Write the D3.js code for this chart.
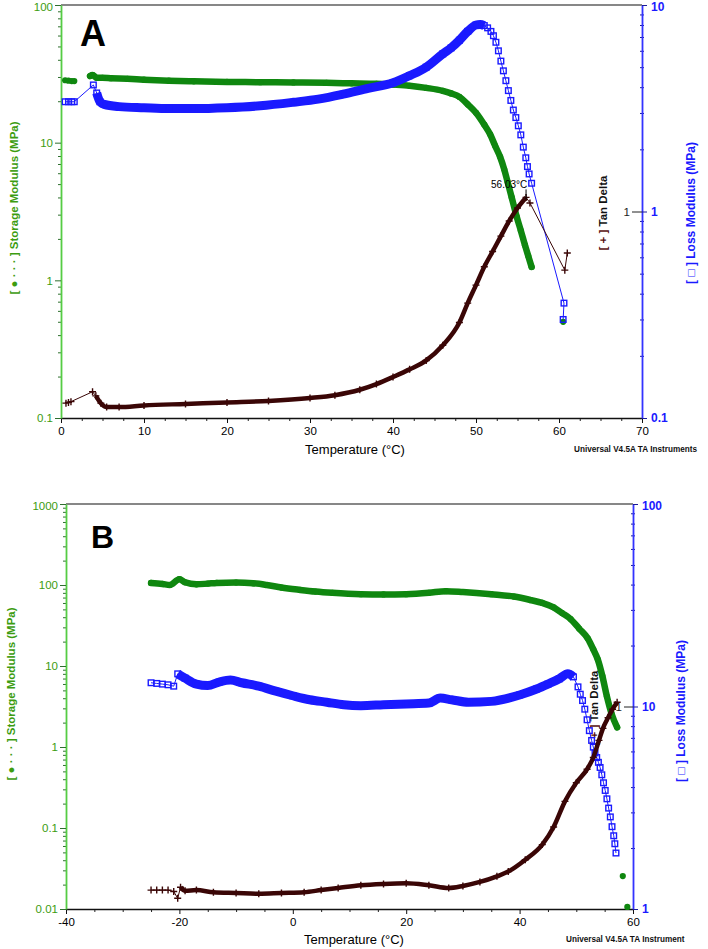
<!DOCTYPE html>
<html><head><meta charset="utf-8">
<script src="https://cdn.jsdelivr.net/npm/d3@7"></script>
<style>
body{margin:0;background:#fff}
svg{display:block}
text{font-family:"Liberation Sans",Arial,sans-serif}
</style>
</head><body><svg id="c" width="708" height="949"></svg>
<script>
// ---------- Panel A data ----------
const aStorageT = [0.5,0.9,1.3,1.6,2.5,3.5,3.8,4.3,5,6,8,10,13,16,20,24,28,32,35,38,40,42,44,46,47,48,49,50,51,51.7,52.3,52.9,53.4,53.8,54.3,54.9,55.4,55.9,56.3,56.7,58.5,60.5];
const aStorageV = [28.4,28.2,28.0,28.0,null,30.5,31.0,29.6,29.6,29.4,29.1,28.7,28.2,27.9,27.6,27.5,27.4,27.2,27.0,26.8,26.4,25.9,25.0,23.8,22.8,21.5,19.0,16.5,13.5,11.5,9.5,7.9,6.4,5.2,4.0,2.9,2.3,1.8,1.5,1.25,null,0.5];
const aLossT = [0.5,0.9,1.3,1.6,3.9,4.3,4.7,5.2,7,10,13,16,20,24,28,31,34,37,40,42,44,46,47,48,49,50,50.5,51,51.4,51.8,52.1,52.4,52.7,53.0,53.3,53.6,53.9,54.2,54.5,54.8,55.1,55.4,55.7,56.0,56.2,56.4,56.7,60.6,60.5];
const aLossV = [3.4,3.4,3.4,3.4,4.1,3.75,3.4,3.3,3.22,3.18,3.15,3.15,3.18,3.25,3.38,3.5,3.7,3.95,4.2,4.55,5.0,5.8,6.2,6.75,7.45,8.0,8.05,7.95,7.75,7.45,7.1,6.6,6.0,5.35,4.8,4.3,3.85,3.45,3.1,2.85,2.6,2.35,2.05,1.82,1.65,1.52,1.37,0.36,0.30];
const aTanT = [0.6,0.9,1.2,3.8,4.2,4.8,5.5,7,10,15,20,25,30,33,36,38,40,42,44,46,48,49,50,51,52,53,54,55,56.03,56.5,60.7,61];
const aTanV = [0.118,0.119,0.12,0.134,0.128,0.118,0.113,0.113,0.115,0.117,0.119,0.121,0.125,0.129,0.137,0.146,0.158,0.172,0.19,0.225,0.29,0.36,0.44,0.54,0.64,0.76,0.9,1.04,1.17,1.1,0.52,0.63];
const aXTicks = [0,10,20,30,40,50,60,70];
const aLeftTicks = [0.1,1,10,100];
const aLeftLabels = ["0.1","1","10","100"];
const aRightTicks = [0.1,1,10];
const aRightLabels = ["0.1","1","10"];
const aPeakLabel = "56.03°C";

// ---------- Panel B data ----------
const bStorageT = [-25,-23,-21.7,-20,-19,-17,-15,-13.4,-10,-7,-4.6,-2,1.3,4,7,12,16,20,24,27,30,35,39,42,44,46,47.5,49,50.5,52,53,53.8,54.6,55.4,56.2,57.2,57.7,58.2,59];
const bStorageV = [106,103,100,118,108,102,104,106,107,105,100,93,87,83,80,77,76.5,77,80,84,82,77,72,65,60,53,45,38,29,22,16,12,7.5,4.2,2.6,1.75,null,0.0255,0.0106];
const bLossT = [-25,-24,-23,-22,-21,-20.3,-19,-17,-15,-13,-11,-9,-6,-3,0,3,6,9,12,16,20,24,26,28,31,35,40,43,45,47,48.5,49.5,50.3,50.7,51.1,51.5,51.9,52.3,52.7,53.0,53.3,53.6,53.9,54.2,54.5,54.8,55.1,55.4,55.7,56.0,56.3,56.6,56.8,57.0];
const bLossV = [13.1,13.0,12.9,12.8,12.6,14.5,13.8,12.9,12.7,13.2,13.5,13.1,12.6,11.9,11.3,10.8,10.5,10.2,10.1,10.2,10.3,10.4,11.0,10.8,10.5,10.6,11.4,12.2,12.9,13.7,14.5,14.0,12.5,11.5,10.7,9.7,8.6,7.6,6.8,6.3,5.9,5.6,5.3,5.0,4.6,4.2,3.85,3.5,3.15,2.85,2.55,2.3,2.1,1.89];
const bTanT = [-25,-24,-23,-22,-21,-20.3,-19.8,-19,-17,-14,-10,-6,-2,2,5,8,12,16,20,24,27.5,30,33,36,38,41,44,46,48,50,51.9,53,54,54.7,55.6,56.4,57.2];
const bTanV = [0.124,0.124,0.124,0.124,0.122,0.113,0.128,0.123,0.124,0.121,0.12,0.119,0.12,0.121,0.124,0.127,0.131,0.133,0.134,0.131,0.127,0.13,0.136,0.145,0.153,0.175,0.208,0.254,0.34,0.42,0.49,0.56,0.68,0.78,0.88,0.97,1.05];
const bXTicks = [-40,-20,0,20,40,60];
const bLeftTicks = [0.01,0.1,1,10,100,1000];
const bLeftLabels = ["0.01","0.1","1","10","100","1000"];
const bRightTicks = [1,10,100];
const bRightLabels = ["1","10","100"];

const GREEN = "#0f870f", GREEN_AX = "#55cc44", GREEN_TXT = "#3c9c10";
const BLUE = "#1a1aff", TAN = "#3a0606";

const svg = d3.select("#c");

function zip(T, V) { return T.map((t, i) => ({t, v: V[i]})); }
function logMinor(dom) {
  const out = [];
  const e0 = Math.round(Math.log10(dom[0])), e1 = Math.round(Math.log10(dom[1]));
  for (let e = e0; e < e1; e++) for (let m = 2; m <= 9; m++) out.push(+(m * Math.pow(10, e)).toPrecision(3));
  return out;
}
const FONT = '"Liberation Sans",Arial,sans-serif';

function drawPanel(p) {
  const g = svg.append("g");
  const x = d3.scaleLinear().domain(p.xDom).range([p.x0, p.x1]);
  const yL = d3.scaleLog().domain(p.leftDom).range([p.yBot, p.yTop]);
  const yR = d3.scaleLog().domain(p.rightDom).range([p.yBot, p.yTop]);
  const yT = d3.scaleLog().domain(p.tanDom).range([p.yBot, p.yTop]);

  // rotated labels drawn first (under the data)
  g.append("text").attr("transform", `translate(${p.leftLabelX},${p.leftLabelY}) rotate(-90)`)
    .attr("text-anchor", "middle").attr("font-size", 11.5).attr("font-weight", "bold").attr("fill", GREEN_TXT)
    .text("[ ● · · · ] Storage Modulus (MPa)");
  g.append("text").attr("transform", `translate(${p.rightLabelX},${p.rightLabelY}) rotate(-90)`)
    .attr("text-anchor", "middle").attr("font-size", 12).attr("font-weight", "bold").attr("fill", BLUE)
    .text("[ □ ] Loss Modulus (MPa)");
  const tt = g.append("text").attr("transform", `translate(${p.tanLabelX},${p.tanLabelY}) rotate(-90)`)
    .attr("text-anchor", "middle").attr("font-size", 11.5).attr("font-weight", "bold");
  tt.append("tspan").attr("fill", "#5a1010").text("[ + ] ");
  tt.append("tspan").attr("fill", "#111").text("Tan Delta");

  // top frame
  g.append("line").attr("x1", p.x0).attr("x2", p.x1).attr("y1", p.yTop).attr("y2", p.yTop)
    .attr("stroke", "#111").attr("stroke-width", 1.2);

  // x axis
  const xMinor = d3.range(p.xDom[0], p.xDom[1] + 0.001, p.xMinorStep).filter(v => !p.xTicks.includes(v));
  g.append("g").attr("transform", `translate(0,${p.yBot})`)
    .call(d3.axisBottom(x).tickValues(xMinor).tickSize(3).tickFormat("").tickSizeOuter(0))
    .call(s => s.select(".domain").remove())
    .call(s => s.selectAll("line").attr("stroke", "#222"));
  g.append("g").attr("transform", `translate(0,${p.yBot})`)
    .call(d3.axisBottom(x).tickValues(p.xTicks).tickSize(5).tickPadding(4).tickFormat(d => d).tickSizeOuter(0))
    .call(s => s.select(".domain").attr("stroke", "#111").attr("stroke-width", 1.5))
    .call(s => s.selectAll("line").attr("stroke", "#111"))
    .call(s => s.selectAll("text").attr("font-size", 11.5).attr("fill", "#000").attr("font-family", FONT));

  // left axis
  g.append("g").attr("transform", `translate(${p.x0},0)`)
    .call(d3.axisLeft(yL).tickValues(logMinor(p.leftDom)).tickSize(3).tickFormat("").tickSizeOuter(0))
    .call(s => s.select(".domain").remove())
    .call(s => s.selectAll("line").attr("stroke", "#2f6f2f"));
  g.append("g").attr("transform", `translate(${p.x0},0)`)
    .call(d3.axisLeft(yL).tickValues(p.leftTicks).tickSize(6).tickPadding(2).tickFormat((d, i) => p.leftLabels[i]).tickSizeOuter(0))
    .call(s => s.select(".domain").attr("stroke", GREEN_AX).attr("stroke-width", 1.8))
    .call(s => s.selectAll("line").attr("stroke", "#2f6f2f"))
    .call(s => s.selectAll("text").attr("font-size", 11.5).attr("fill", GREEN_TXT).attr("font-family", FONT)
      .attr("dy", (d) => d === p.leftDom[1] ? "0.72em" : "0.32em").attr("y", d => d === p.leftDom[1] ? -3 : 0));

  // right axis (loss)
  g.append("g").attr("transform", `translate(${p.x1},0)`)
    .call(d3.axisRight(yR).tickValues(logMinor(p.rightDom)).tickSize(4).tickFormat("").tickSizeOuter(0))
    .call(s => s.select(".domain").remove())
    .call(s => s.selectAll("line").attr("stroke", "#1a1a99").attr("transform", "translate(-2,0)"));
  g.append("g").attr("transform", `translate(${p.x1},0)`)
    .call(d3.axisRight(yR).tickValues(p.rightTicks).tickSize(5).tickPadding(4).tickFormat((d, i) => p.rightLabels[i]).tickSizeOuter(0))
    .call(s => s.select(".domain").attr("stroke", "#3333ff").attr("stroke-width", 1.8))
    .call(s => s.selectAll("line").attr("stroke", "#1a1a99"))
    .call(s => s.selectAll("text").attr("font-size", 12).attr("font-weight", "bold").attr("fill", BLUE).attr("font-family", FONT)
      .attr("dy", (d) => d === p.rightDom[1] ? "0.72em" : "0.32em").attr("y", d => d === p.rightDom[1] ? -3 : 0));

  // tan delta tick
  g.append("g").attr("transform", `translate(${p.x1},0)`)
    .call(d3.axisLeft(yT).tickValues([1]).tickSize(p.tanTick).tickPadding(2).tickFormat(() => "1").tickSizeOuter(0))
    .call(s => s.select(".domain").remove())
    .call(s => s.selectAll("line").attr("stroke", "#222"))
    .call(s => s.selectAll("text").attr("font-size", 11.5).attr("fill", "#222").attr("font-family", FONT));

  // ---- data ----
  const st = zip(p.storageT, p.storageV);
  const ls = zip(p.lossT, p.lossV);
  const tn = zip(p.tanT, p.tanV);

  // storage band + dots
  const lineS = d3.line().defined(d => d.v != null).x(d => x(d.t)).y(d => yL(d.v)).curve(d3.curveMonotoneX);
  g.append("path").datum(st.filter(d => d.t >= p.storageBand[0] && d.t <= p.storageBand[1] || d.v == null))
    .attr("d", lineS).attr("fill", "none").attr("stroke", GREEN).attr("stroke-width", 6.5).attr("stroke-linecap", "round");
  g.append("g").selectAll("circle").data(st.filter(d => d.v != null)).join("circle")
    .attr("cx", d => x(d.t)).attr("cy", d => yL(d.v)).attr("r", 3.1).attr("fill", GREEN);

  // loss thin line + band + squares
  const lineR = d3.line().x(d => x(d.t)).y(d => yR(d.v));
  g.append("path").datum(ls).attr("d", lineR).attr("fill", "none").attr("stroke", BLUE).attr("stroke-width", 1);
  g.append("path").datum(ls.filter(d => d.t >= p.lossBand[0] && d.t <= p.lossBand[1]))
    .attr("d", lineR.curve(d3.curveMonotoneX)).attr("fill", "none").attr("stroke", BLUE).attr("stroke-width", 9).attr("stroke-linejoin", "round");
  g.append("g").selectAll("rect").data(ls).join("rect")
    .attr("x", d => x(d.t) - 2.8).attr("y", d => yR(d.v) - 2.8).attr("width", 5.6).attr("height", 5.6)
    .attr("fill", "none").attr("stroke", BLUE).attr("stroke-width", 1.4);

  // tan delta thin line + band + crosses
  const lineT = d3.line().x(d => x(d.t)).y(d => yT(d.v));
  g.append("path").datum(tn).attr("d", lineT).attr("fill", "none").attr("stroke", TAN).attr("stroke-width", 1);
  g.append("path").datum(tn.filter(d => d.t >= p.tanBand[0] && d.t <= p.tanBand[1]))
    .attr("d", lineT.curve(d3.curveMonotoneX)).attr("fill", "none").attr("stroke", TAN).attr("stroke-width", 4.5).attr("stroke-linejoin", "round");
  g.append("g").selectAll("path").data(tn).join("path")
    .attr("transform", d => `translate(${x(d.t)},${yT(d.v)})`)
    .attr("d", "M-3.5,0H3.5M0,-3.5V3.5").attr("stroke", TAN).attr("stroke-width", 1.4);

  // panel letter
  g.append("text").attr("x", p.letterX).attr("y", p.letterY).attr("font-size", p.letterSize)
    .attr("font-weight", "bold").attr("fill", "#000").text(p.letter);

  // x title
  g.append("text").attr("x", p.xTitleX).attr("y", p.xTitleY).attr("text-anchor", "middle")
    .attr("font-size", 13).attr("fill", "#000").text("Temperature (°C)");
  // credit
  g.append("text").attr("x", p.creditX).attr("y", p.creditY).attr("font-size", 8.2)
    .attr("font-weight", "bold").attr("fill", "#111").text(p.credit);

  return {x, yL, yR, yT, g};
}

const A = drawPanel({
  x0: 61, x1: 642, yTop: 5, yBot: 418,
  xDom: [0, 70], xTicks: aXTicks, xMinorStep: 2.5,
  leftDom: [0.1, 100], leftTicks: aLeftTicks, leftLabels: aLeftLabels,
  rightDom: [0.1, 10], rightTicks: aRightTicks, rightLabels: aRightLabels,
  tanDom: [0.1, 10], tanTick: 10,
  storageT: aStorageT, storageV: aStorageV, storageBand: [3.5, 56.7],
  lossT: aLossT, lossV: aLossV, lossBand: [4.3, 51],
  tanT: aTanT, tanV: aTanV, tanBand: [4.2, 56.03],
  leftLabelX: 18, leftLabelY: 208, rightLabelX: 695, rightLabelY: 213, tanLabelX: 607, tanLabelY: 213,
  letter: "A", letterX: 80, letterY: 46, letterSize: 36,
  xTitleX: 355, xTitleY: 454,
  credit: "Universal V4.5A TA Instruments", creditX: 574, creditY: 452
});
// peak annotation (panel A)
{
  const px = A.x(aTanT[28]), py = A.yT(aTanV[28]);
  A.g.append("line").attr("x1", px).attr("x2", px).attr("y1", py - 8).attr("y2", py + 2).attr("stroke", "#000").attr("stroke-width", 1);
  A.g.append("text").attr("x", px - 35).attr("y", py - 9).attr("font-size", 10).attr("fill", "#000").text(aPeakLabel);
}

drawPanel({
  x0: 66, x1: 633, yTop: 504, yBot: 909,
  xDom: [-40, 60], xTicks: bXTicks, xMinorStep: 5,
  leftDom: [0.01, 1000], leftTicks: bLeftTicks, leftLabels: bLeftLabels,
  rightDom: [1, 100], rightTicks: bRightTicks, rightLabels: bRightLabels,
  tanDom: [0.1, 10], tanTick: 9,
  storageT: bStorageT, storageV: bStorageV, storageBand: [-25, 57.2],
  lossT: bLossT, lossV: bLossV, lossBand: [-20.3, 50],
  tanT: bTanT, tanV: bTanV, tanBand: [-19.8, 57.2],
  leftLabelX: 15, leftLabelY: 694, rightLabelX: 685, rightLabelY: 711, tanLabelX: 598, tanLabelY: 708,
  letter: "B", letterX: 91, letterY: 548, letterSize: 32,
  xTitleX: 354, xTitleY: 944,
  credit: "Universal V4.5A TA Instrument", creditX: 566, creditY: 942
});
</script>
</body></html>
